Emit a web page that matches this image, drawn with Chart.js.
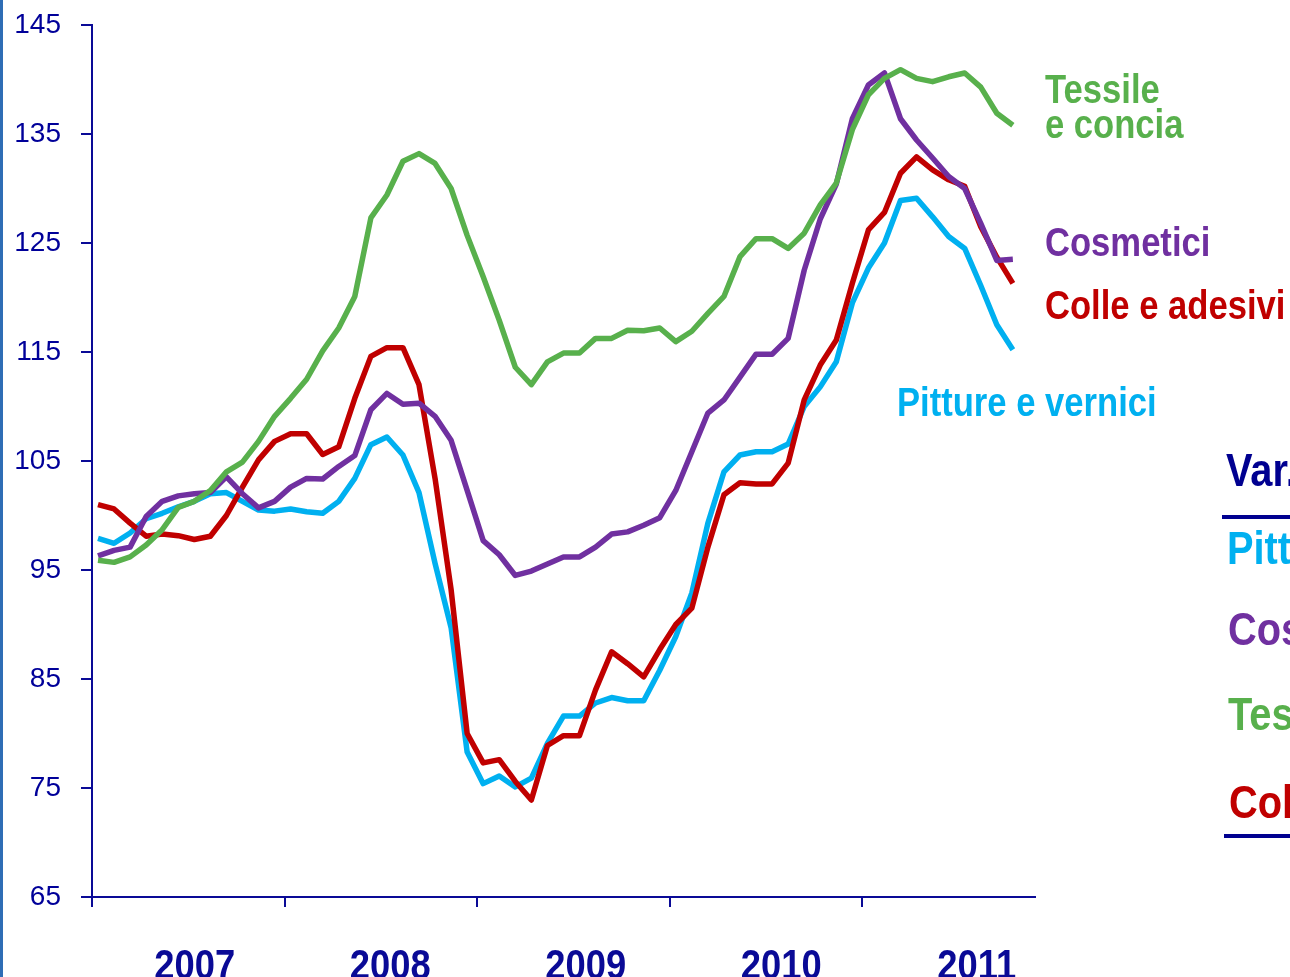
<!DOCTYPE html>
<html>
<head>
<meta charset="utf-8">
<script src="https://cdn.jsdelivr.net/npm/chart.js@4/dist/chart.umd.min.js"></script>
<style>
  html, body { margin: 0; padding: 0; background: #fff; }
  #c { display: block; }
</style>
</head>
<body>
<canvas id="c" width="1290" height="977"></canvas>
<script>
// monthly index, Jan 2007 .. Oct 2011
var years = ['2007', '2008', '2009', '2010', '2011'];

var pitture = [97.9, 97.45, 98.4, 99.7, 100.2, 100.8, 101.3, 102.0, 102.1, 101.3,
  100.5, 100.4, 100.6, 100.35, 100.2, 101.3, 103.4, 106.5, 107.2, 105.55,
  102.1, 95.6, 89.7, 78.3, 75.4, 76.1, 75.1, 75.9, 79.1, 81.6,
  81.6, 82.8, 83.3, 83.0, 83.0, 85.8, 88.9, 92.9, 99.3, 104.0,
  105.55, 105.85, 105.85, 106.55, 110.0, 111.8, 114.1, 119.5, 122.7, 125.0,
  128.9, 129.1, 127.4, 125.6, 124.5, 121.1, 117.5, 115.2];

var cosmetici = [96.3, 96.8, 97.1, 99.9, 101.3, 101.8, 102.0, 102.1, 103.55, 102.0,
  100.7, 101.3, 102.6, 103.4, 103.35, 104.5, 105.5, 109.7, 111.2, 110.2,
  110.3, 109.1, 106.9, 102.3, 97.7, 96.4, 94.5, 94.9, 95.55, 96.2,
  96.2, 97.1, 98.3, 98.5, 99.1, 99.8, 102.3, 105.85, 109.4, 110.6,
  112.7, 114.8, 114.8, 116.25, 122.5, 127.2, 130.4, 136.4, 139.5, 140.6,
  136.4, 134.45, 132.8, 131.1, 130.0, 126.8, 123.4, 123.5];

var tessile = [95.9, 95.7, 96.2, 97.3, 98.7, 100.75, 101.3, 102.3, 104.0, 104.9,
  106.8, 109.1, 110.75, 112.5, 115.1, 117.2, 120.1, 127.3, 129.4, 132.5,
  133.2, 132.3, 130.0, 125.7, 121.9, 117.9, 113.6, 112.0, 114.1, 114.9,
  114.9, 116.25, 116.25, 117.0, 116.95, 117.2, 115.95, 116.9, 118.55, 120.1,
  123.75, 125.4, 125.4, 124.5, 125.9, 128.5, 130.5, 135.4, 138.6, 140.1,
  140.9, 140.1, 139.8, 140.25, 140.6, 139.3, 136.9, 135.8];

var colle = [101.0, 100.6, 99.3, 98.1, 98.3, 98.15, 97.8, 98.1, 100.0, 102.6,
  105.1, 106.8, 107.5, 107.5, 105.6, 106.3, 110.75, 114.6, 115.4, 115.4,
  112.0, 103.4, 93.2, 80.0, 77.3, 77.6, 75.6, 73.9, 78.9, 79.8,
  79.8, 84.0, 87.5, 86.4, 85.2, 87.7, 90.0, 91.5, 97.1, 101.9,
  103.0, 102.9, 102.9, 104.8, 110.6, 113.8, 116.1, 121.3, 126.2, 127.8,
  131.4, 132.9, 131.7, 130.8, 130.2, 126.5, 123.7, 121.3];

var yTicks = [65, 75, 85, 95, 105, 115, 125, 135, 145];

var NAVY = '#0A0A96';
var C_PITT = '#00B0F0', C_COSM = '#7030A0', C_TESS = '#58B04C', C_COLL = '#C00000';

function pts(arr) {
  return arr.map(function (v, i) { return { x: i, y: v }; });
}

// x axis starts a bit before the first month
var X0 = -0.374;

function narrowText(ctx, txt, x, y, size, color, align) {
  ctx.save();
  ctx.font = 'bold ' + size + 'px "Liberation Sans", Arial, sans-serif';
  ctx.fillStyle = color;
  ctx.textBaseline = 'alphabetic';
  var sx = 0.865;
  var w = ctx.measureText(txt).width * sx;
  if (align === 'center') x = x - w / 2;
  ctx.translate(x, y);
  ctx.scale(sx, 1);
  ctx.textAlign = 'left';
  ctx.fillText(txt, 0, 0);
  ctx.restore();
}

var extras = {
  id: 'extras',
  afterDraw: function (chart) {
    var ctx = chart.ctx;
    var xs = chart.scales.x;
    // left frame edge
    ctx.save();
    ctx.fillStyle = '#2F6DB5';
    ctx.fillRect(0, 0, 3, chart.height);
    ctx.restore();

    // year labels
    years.forEach(function (y, k) {
      var px = xs.getPixelForValue(X0 + 12 * k + 6.4 + 0.18 * k);
      narrowText(ctx, y, px, 979, 42, NAVY, 'center');
    });

    // series labels
    narrowText(ctx, 'Tessile', 1045, 103, 40, C_TESS);
    narrowText(ctx, 'e concia', 1045, 138, 40, C_TESS);
    narrowText(ctx, 'Cosmetici', 1045, 256, 40, C_COSM);
    narrowText(ctx, 'Colle e adesivi', 1045, 319, 40, C_COLL);
    narrowText(ctx, 'Pitture e vernici', 897, 416, 40, C_PITT);

    // table on the right, cut by the frame
    narrowText(ctx, 'Var. %', 1226, 486, 46, '#000090');
    narrowText(ctx, 'Pitture e vernici', 1227, 564, 46, C_PITT);
    narrowText(ctx, 'Cosmetici', 1228, 645, 46, C_COSM);
    narrowText(ctx, 'Tessile e concia', 1228, 730, 46, C_TESS);
    narrowText(ctx, 'Colle e adesivi', 1229, 818, 46, C_COLL);
    ctx.save();
    ctx.fillStyle = '#000090';
    ctx.fillRect(1222, 515, 80, 4);
    ctx.fillRect(1224, 834, 80, 4);
    ctx.restore();
  }
};

function ds(label, arr, color, order) {
  return {
    label: label,
    data: pts(arr),
    borderColor: color,
    backgroundColor: color,
    borderWidth: 5.5,
    pointRadius: 0,
    tension: 0,
    borderJoinStyle: 'round',
    order: order
  };
}

var chart = new Chart(document.getElementById('c').getContext('2d'), {
  type: 'line',
  data: {
    datasets: [
      ds('Tessile e concia', tessile, C_TESS, 1),
      ds('Cosmetici', cosmetici, C_COSM, 2),
      ds('Colle e adesivi', colle, C_COLL, 3),
      ds('Pitture e vernici', pitture, C_PITT, 4)
    ]
  },
  options: {
    responsive: false,
    animation: false,
    devicePixelRatio: 1,
    layout: { padding: { top: 25, right: 255, left: 0, bottom: 0 } },
    plugins: { legend: { display: false }, tooltip: { enabled: false } },
    scales: {
      x: {
        type: 'linear',
        min: X0,
        max: 58.38,
        afterBuildTicks: function (s) {
          s.ticks = years.map(function (y, k) { return { value: X0 + 12 * k }; });
        },
        afterFit: function (s) { s.height = 80; s.paddingLeft = 0; s.paddingRight = 0; },
        ticks: { display: false },
        grid: { drawOnChartArea: false, drawTicks: true, tickLength: 10, color: NAVY, lineWidth: 2 },
        border: { color: NAVY, width: 2 }
      },
      y: {
        min: 65,
        max: 145,
        afterBuildTicks: function (s) {
          s.ticks = yTicks.map(function (v) { return { value: v }; });
        },
        afterFit: function (s) { s.width = 92; s.paddingTop = 0; s.paddingBottom = 0; },
        ticks: {
          padding: 20,
          color: '#000099',
          font: { family: '"Liberation Sans", Arial, sans-serif', size: 28 }
        },
        grid: { drawOnChartArea: false, drawTicks: true, tickLength: 11, color: NAVY, lineWidth: 2 },
        border: { color: NAVY, width: 2 }
      }
    }
  },
  plugins: [extras]
});
</script>
</body>
</html>
